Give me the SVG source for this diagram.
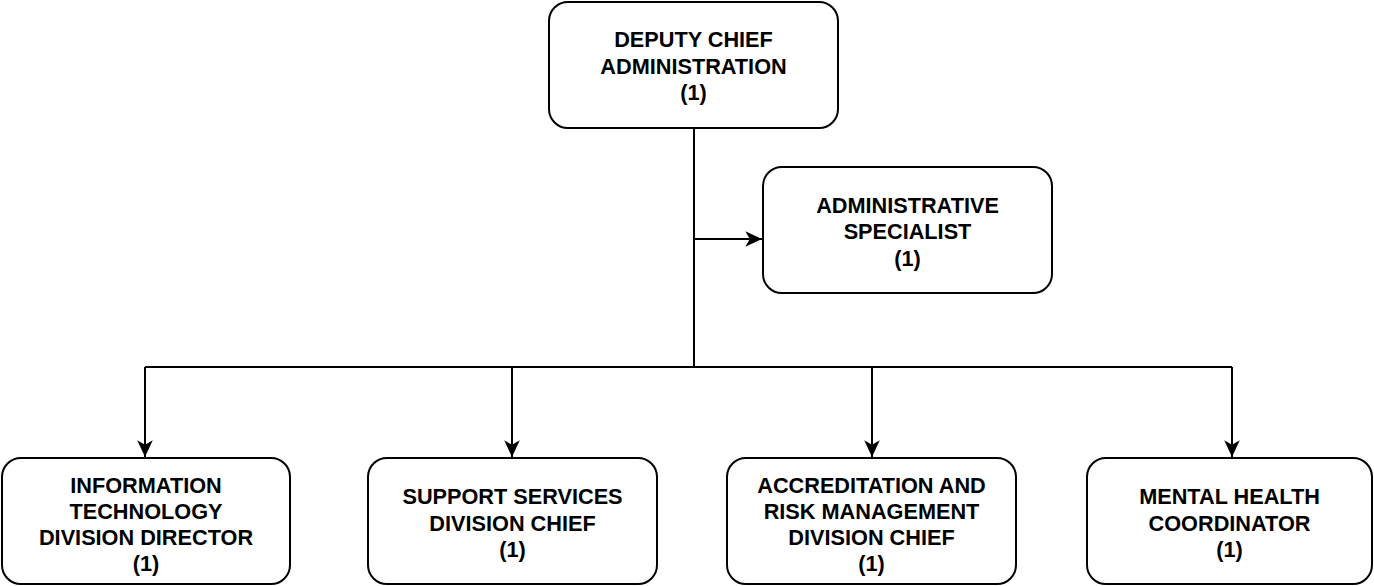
<svg xmlns="http://www.w3.org/2000/svg" width="1374" height="586" viewBox="0 0 1374 586">
<defs>
<style>
.box{fill:#fff;stroke:#000;stroke-width:2}
.lbl{font-family:"Liberation Sans",Arial,sans-serif;font-weight:bold;font-size:21.7px;fill:#000;text-anchor:middle}
.edge{fill:none;stroke:#000;stroke-width:2}
</style>
<marker id="arr" markerUnits="userSpaceOnUse" markerWidth="20" markerHeight="20" viewBox="-17 -9 18 18" refX="0" refY="0" orient="auto">
<path d="M0,0 L-15,-7 L-11,0 L-15,7 Z" fill="#000"/>
</marker>
</defs>
<g id="connectors">
<path class="edge" d="M694,128 V367"/>
<path class="edge" d="M694,239 H762" marker-end="url(#arr)"/>
<path class="edge" d="M145,367 H1232"/>
<path class="edge" d="M145,367 V457" marker-end="url(#arr)"/>
<path class="edge" d="M512,367 V457" marker-end="url(#arr)"/>
<path class="edge" d="M872,367 V457" marker-end="url(#arr)"/>
<path class="edge" d="M1232,367 V457" marker-end="url(#arr)"/>
</g>
<g id="deputy">
<rect class="box" x="549" y="2" width="289" height="126" rx="19"/>
<text class="lbl" x="693.5" y="47">DEPUTY CHIEF</text>
<text class="lbl" x="693.5" y="74">ADMINISTRATION</text>
<text class="lbl" x="693.5" y="100">(1)</text>
</g>
<g id="admin">
<rect class="box" x="763" y="167" width="289" height="126" rx="19"/>
<text class="lbl" x="907.5" y="213">ADMINISTRATIVE</text>
<text class="lbl" x="907.5" y="239">SPECIALIST</text>
<text class="lbl" x="907.5" y="266">(1)</text>
</g>
<g id="it">
<rect class="box" x="2" y="458" width="288" height="126" rx="19"/>
<text class="lbl" x="146" y="493">INFORMATION</text>
<text class="lbl" x="146" y="519">TECHNOLOGY</text>
<text class="lbl" x="146" y="545">DIVISION DIRECTOR</text>
<text class="lbl" x="146" y="571">(1)</text>
</g>
<g id="support">
<rect class="box" x="368" y="458" width="289" height="126" rx="19"/>
<text class="lbl" x="512.5" y="504">SUPPORT SERVICES</text>
<text class="lbl" x="512.5" y="531">DIVISION CHIEF</text>
<text class="lbl" x="512.5" y="557">(1)</text>
</g>
<g id="accreditation">
<rect class="box" x="727" y="458" width="289" height="126" rx="19"/>
<text class="lbl" x="871.5" y="493">ACCREDITATION AND</text>
<text class="lbl" x="871.5" y="519">RISK MANAGEMENT</text>
<text class="lbl" x="871.5" y="545">DIVISION CHIEF</text>
<text class="lbl" x="871.5" y="571">(1)</text>
</g>
<g id="mental">
<rect class="box" x="1087" y="458" width="285" height="126" rx="19"/>
<text class="lbl" x="1229.5" y="504">MENTAL HEALTH</text>
<text class="lbl" x="1229.5" y="531">COORDINATOR</text>
<text class="lbl" x="1229.5" y="557">(1)</text>
</g>
</svg>
